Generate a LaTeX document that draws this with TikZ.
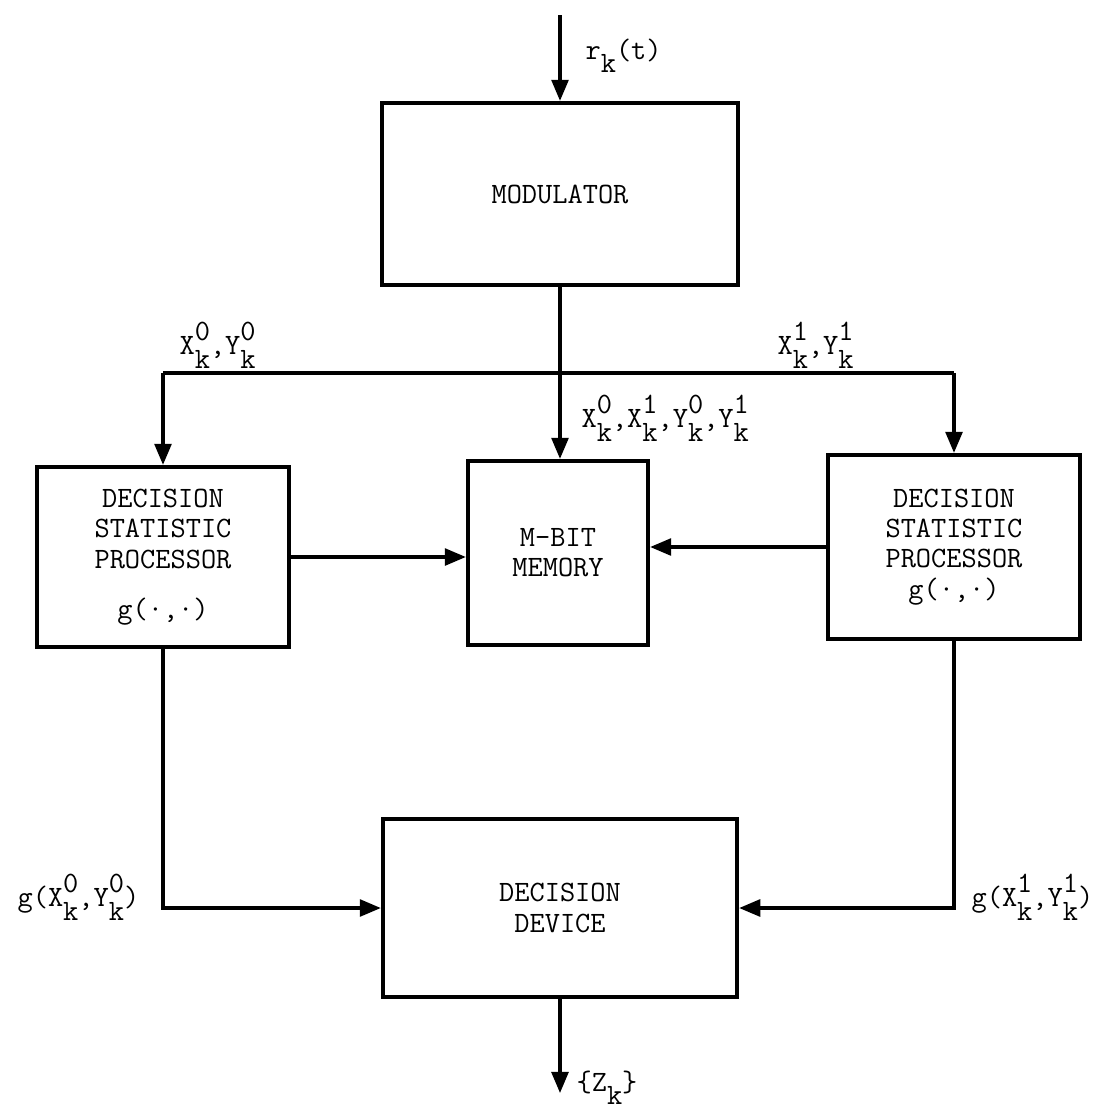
\documentclass[tikz,border=0pt]{standalone}
\usepackage{fontspec}
\usepackage{tikz}
\usetikzlibrary{arrows.meta}
\newcommand{\typed}{\fontsize{21}{21.5}\selectfont\ttfamily}
% typewriter style sub/superscripts
\newcommand{\xk}[2]{#1\rlap{\raisebox{.5em}{#2}}\raisebox{-.45em}{k}}
\newcommand{\subk}{\raisebox{-.45em}{k}}
\tikzset{
    blok/.style={rectangle, draw, line width=3pt, inner sep=0pt,
        align=center, font=\typed}
}
\tikzset{
    lbl/.style={anchor=west, inner sep=0pt, font=\typed}
}
\tikzset{
    >={Triangle[length=15pt,width=12pt]}
}

\begin{document}
\begin{tikzpicture}[x=0.025cm, y=-0.025cm, line width=2.3pt]
	\useasboundingbox (0,0) rectangle (1094,1120);
	\node (mod) [blok, minimum width=8.9cm, minimum height=4.55cm] at (560,194) {MODULATOR};
	\node (dspL) [blok, minimum width=6.3cm, minimum height=4.5cm] at (163,557)
		{DECISION\\STATISTIC\\PROCESSOR\\[14pt]g(·,·)};
	\node (mem) [blok, minimum width=4.5cm, minimum height=4.6cm] at (558,553) {M-BIT\\MEMORY};
	\node (dspR) [blok, minimum width=6.3cm, minimum height=4.6cm] at (954,547)
		{DECISION\\STATISTIC\\PROCESSOR\\g(·,·)};
	\node (dev) [blok, minimum width=8.85cm, minimum height=4.45cm] at (560,908) {DECISION\\DEVICE};

	\coordinate (in) at (560,15);
	\coordinate (out) at (560,1093);
	\coordinate (busL) at (163,373);
	\coordinate (busR) at (954,373);

	\node (rk) [lbl] at (584,56) {r\subk(t)};
	\node (xyL) [lbl] at (178,345) {\xk{X}{0},\xk{Y}{0}};
	\node (xyR) [lbl] at (776,345) {\xk{X}{1},\xk{Y}{1}};
	\node (xyM) [lbl] at (580,418) {\xk{X}{0},\xk{X}{1},\xk{Y}{0},\xk{Y}{1}};
	\node (gL) [lbl] at (16,897) {g(\xk{X}{0},\xk{Y}{0})};
	\node (gR) [lbl] at (970,897) {g(\xk{X}{1},\xk{Y}{1})};
	\node (zk) [lbl] at (575,1088) {\{Z\subk\}};

	\draw[->] (in) -- (mod);
	\draw[->] (mod.south) -- (mod.south |- mem.north);
	\draw (busL) -- (busR);
	\draw[->] (busL) -- (dspL);
	\draw[->] (busR) -- (dspR);
	\draw[->] (dspL.east) -- (dspL.east -| mem.west);
	\draw[->] (dspR.west) -- (dspR.west -| mem.east);
	\draw[->] (dspL.south) |- (dev.west);
	\draw[->] (dspR.south) |- (dev.east);
	\draw[->] (dev) -- (out);
\end{tikzpicture}
\end{document}
